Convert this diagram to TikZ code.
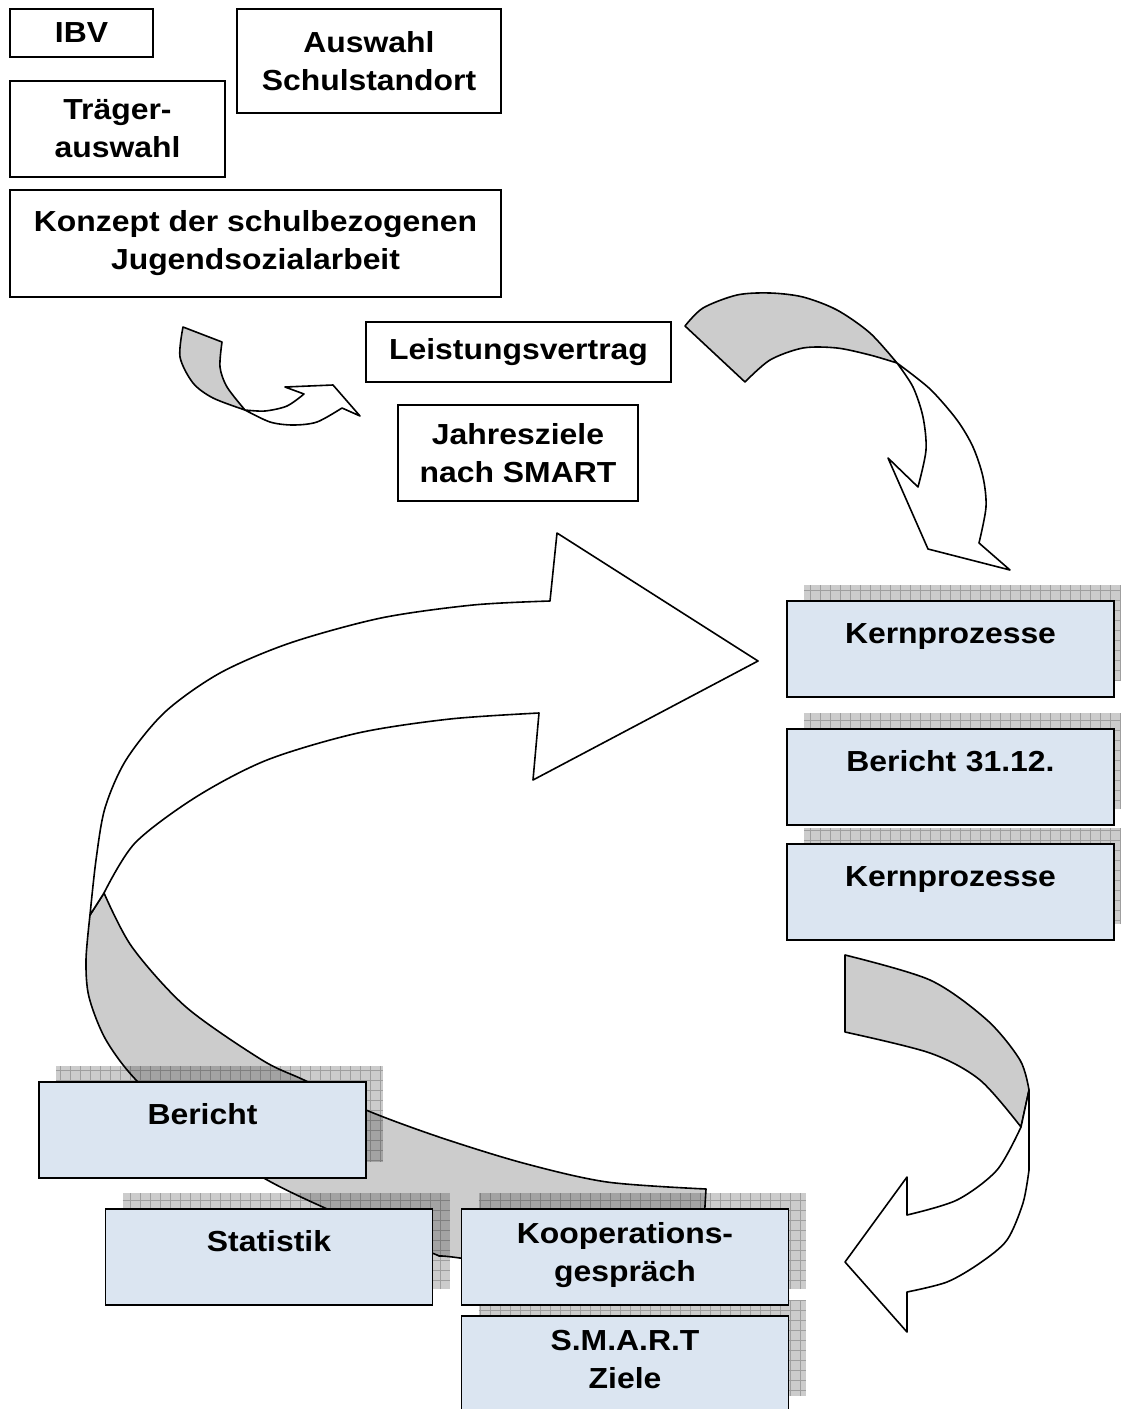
\documentclass[tikz,border=0pt]{standalone}
\usepackage{fontspec}
\setmainfont{Liberation Sans}[FakeStretch=1.1]
\usetikzlibrary{backgrounds}
\definecolor{boxblue}{RGB}{219,229,241}
\tikzset{
  plainbox/.style={draw, line width=1.6pt, inner sep=0pt, outer sep=0pt, align=center},
  procbox/.style={draw, line width=1.6pt, fill=boxblue, inner sep=0pt, outer sep=0pt,
    minimum width=327pt, text width=320pt, align=center,
    text height=42pt, text depth=54pt, anchor=north},
  twoline/.style={text height=34pt, text depth=62pt},
  shadowfill/.style={fill=gray!40},
  shadowgrid/.style={draw=gray!75, line width=0.6pt},
  backband/.style={draw, line width=1.6pt, line join=round, fill=black, fill opacity=0.2},
  frontband/.style={draw, line width=1.6pt, line join=round, fill=white},
}
\begin{document}
\begin{tikzpicture}[x=1pt,y=-1pt,font=\fontsize{29}{38}\selectfont\bfseries]
\useasboundingbox (0,0) rectangle (1120,1409);
% planning
\node[plainbox, minimum width=143pt, minimum height=48pt] (ibv) at (81.5,33) {IBV};
\node[plainbox, minimum width=264pt, minimum height=104pt] (standort) at (369,61) {Auswahl\\Schulstandort};
\node[plainbox, minimum width=215pt, minimum height=96pt] (traeger) at (117.5,129) {Träger-\\auswahl};
\node[plainbox, minimum width=491pt, minimum height=107pt] (konzept) at (255.5,243.5) {Konzept der schulbezogenen\\Jugendsozialarbeit};
\node[plainbox, minimum width=305pt, minimum height=60pt] (vertrag) at (518.5,352) {Leistungsvertrag};
\node[plainbox, minimum width=240pt, minimum height=96pt] (jahresziele) at (518,453) {Jahresziele\\nach SMART};
% cycle boxes
\node[procbox] (kern1) at (950.5,601) {Kernprozesse};
\node[procbox] (bericht1) at (950.5,729) {Bericht 31.12.};
\node[procbox] (kern2) at (950.5,844) {Kernprozesse};
\node[procbox] (bericht2) at (202.5,1082) {Bericht};
\node[procbox] (statistik) at (269,1209) {Statistik};
\node[procbox, twoline] (koop) at (625,1209) {Kooperations-\\gespräch};
\node[procbox, twoline] (smart) at (625,1316) {S.M.A.R.T\\Ziele};
\begin{pgfonlayer}{background}
% shadows
\foreach \n in {kern1,bericht1,kern2,bericht2,statistik,koop,smart}{
  \fill[shadowfill] ([shift={(17,-16)}]\n.south west) rectangle ([shift={(17,-16)}]\n.north east);
  \draw[shadowgrid, step=10pt] ([shift={(17,-16)}]\n.south west) grid ([shift={(17,-16)}]\n.north east);
}
% small arrow
\draw[backband] (183,327) -- (222,342) -- plot[smooth] coordinates {(222,342) (220,367) (227,387) (245,410)}
  -- plot[smooth] coordinates {(245,410) (213,398) (193,383) (180,357) (183,327)} -- cycle;
\draw[frontband] (245,410) -- plot[smooth] coordinates {(245,410) (270,422) (293,425) (317,422) (342,408)}
  -- (360,416) -- (333,385) -- (285,387) -- (304,394)
  -- plot[smooth] coordinates {(304,394) (287,406) (265,411) (245,410)} -- cycle;
% arrow to Kernprozesse
\draw[backband] (745,382) -- (685,326) -- plot[smooth] coordinates {(685,326) (703,308) (737,295) (770,293) (803,297) (837,310) (870,333) (897,363)}
  -- plot[smooth] coordinates {(897,363) (870,355) (837,348) (803,348) (770,360) (745,382)} -- cycle;
\draw[frontband] (897,363) -- plot[smooth] coordinates {(897,363) (930,389) (957,420) (973,447) (983,477) (986,507) (979,543)}
  -- (1010,570) -- (928,549) -- (888,458) -- (918,487)
  -- plot[smooth] coordinates {(918,487) (926,450) (923,417) (913,387) (897,363)} -- cycle;
% arrow to Kooperationsgespraech
\draw[backband] (845,1032) -- (845,955) -- plot[smooth] coordinates {(845,955) (930,980) (987,1020) (1020,1060) (1029,1090)}
  -- (1021,1127) -- plot[smooth] coordinates {(1021,1127) (980,1080) (930,1053) (845,1032)} -- cycle;
\draw[frontband] (1029,1090) -- (1029,1170) -- plot[smooth] coordinates {(1029,1170) (1023,1203) (1007,1240) (980,1263) (947,1282) (907,1292)}
  -- (907,1332) -- (845,1262) -- (907,1177) -- (907,1215)
  -- plot[smooth] coordinates {(907,1215) (957,1200) (997,1170) (1021,1127)} -- cycle;
% big return arrow
\draw[backband] (90,915) -- (104,893) -- plot[smooth] coordinates {(104,893) (132,947) (186,1007) (262,1060) (304,1080) (366,1110) (439,1137) (523,1163) (607,1182) (706,1189)}
  -- (700,1290) -- plot[smooth] coordinates {(700,1290) (460,1258) (432,1253) (325,1208) (262,1177) (200,1135) (138,1082) (106,1040) (89,997) (86,960) (90,915)} -- cycle;
\draw[frontband] (557,533) -- (550,601) -- plot[smooth] coordinates {(550,601) (473,605) (381,618) (290,643) (220,673) (165,712) (126,760) (105,808) (96,860) (90,915)}
  -- (104,893) -- plot[smooth] coordinates {(104,893) (135,843) (196,797) (267,760) (358,733) (450,719) (539,713)}
  -- (533,780) -- (758,661) -- cycle;
\end{pgfonlayer}
\end{tikzpicture}
\end{document}
